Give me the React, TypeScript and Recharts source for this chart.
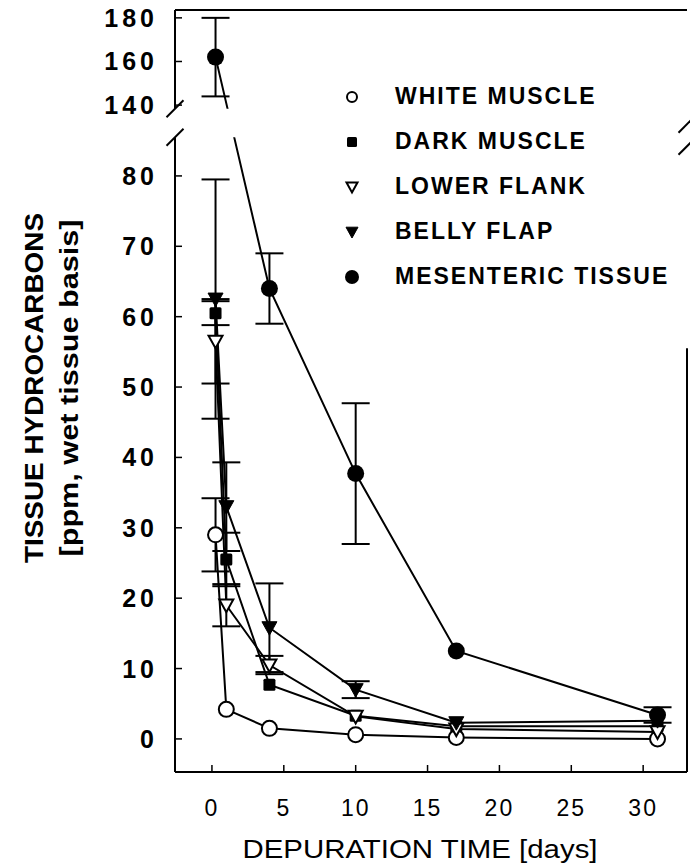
import { ErrorBar, Label, Legend, Line, LineChart, ReferenceArea, ReferenceLine, XAxis, YAxis } from 'recharts'

const days = [0.25, 1, 4, 10, 17, 31]
const mesentericDays = [0.25, 4, 10, 17, 31]

const whiteMuscle = [29, 4.2, 1.5, 0.6, 0.2, 0]
const whiteMuscleErr = [5.2, null, null, null, null, null]
const darkMuscle = [60.5, 25.5, 7.7, 3.3, 1.8, 1.8]
const darkMuscleErr = [1.7, 3.8, null, null, null, null]
const lowerFlank = [56.5, 19, 10.5, 3.2, 1.4, 1.0]
const lowerFlankErr = [6, 3, 1.3, null, null, null]
const bellyFlap = [62.5, 33, 15.8, 7, 2.3, 2.6]
const bellyFlapErr = [17, 6.3, 6.3, 1.2, null, null]
const mesenteric = [162, 64, 37.7, 12.5, 3.4]
const mesentericErr = [18, 5, 10, null, 1.1]

const xTicks = [0, 5, 10, 15, 20, 25, 30]
const lowerTicks = [0, 10, 20, 30, 40, 50, 60, 70, 80]
const upperTicks = [140, 160, 180]

// broken y axis: 0-86 keeps its units, 140-184 is squeezed in above a gap
const UPPER_BASE = 140
const UPPER_OFFSET = 90.06
const UPPER_SCALE = 0.31
const brk = (v: number) => (v < 100 ? v : UPPER_OFFSET + (v - UPPER_BASE) * UPPER_SCALE)
const unbrk = (d: number) => (d < 88 ? d : (d - UPPER_OFFSET) / UPPER_SCALE + UPPER_BASE)

const X_MIN = -2.57
const X_MAX = 33.05
const Y_MIN = -4.7
const Y_MAX = brk(183.6)
const LOWER_TOP = 85.5
const UPPER_BOTTOM = 89.55

const PLOT_W = 512
const PLOT_H = 762
const PX_X = (X_MAX - X_MIN) / PLOT_W
const PX_Y = (Y_MAX - Y_MIN) / PLOT_H

const FONT = '"Liberation Sans", Arial, sans-serif'

type Row = { day: number; y: number; err?: [number, number] }

function buildRows(xs: number[], vals: number[], errs: (number | null)[]): Row[] {
  return xs.map((day, i) => {
    const v = vals[i]
    const e = errs[i]
    const row: Row = { day, y: brk(v) }
    if (e != null) row.err = [brk(v) - brk(v - e), brk(v + e) - brk(v)]
    return row
  })
}

type MarkProps = { cx?: number; cy?: number; small?: boolean }

function OpenCircle({ cx = 0, cy = 0, small }: MarkProps) {
  return <circle cx={cx} cy={cy} r={small ? 5 : 7.5} fill="#fff" stroke="#000" strokeWidth={2} />
}
function FilledSquare({ cx = 0, cy = 0, small }: MarkProps) {
  const s = small ? 10 : 12
  return <rect x={cx - s / 2} y={cy - s / 2} width={s} height={s} rx={1.5} fill="#000" />
}
function triPath(cx: number, cy: number, s: number) {
  return `M${cx - s / 2},${cy - s * 0.4} L${cx + s / 2},${cy - s * 0.4} L${cx},${cy + s * 0.5} Z`
}
function OpenTriangle({ cx = 0, cy = 0, small }: MarkProps) {
  return <path d={triPath(cx, cy, small ? 11 : 14)} fill="#fff" stroke="#000" strokeWidth={2} />
}
function FilledTriangle({ cx = 0, cy = 0, small }: MarkProps) {
  return <path d={triPath(cx, cy, small ? 12 : 15)} fill="#000" stroke="#000" strokeWidth={1} />
}
function FilledCircle({ cx = 0, cy = 0, small }: MarkProps) {
  return <circle cx={cx} cy={cy} r={small ? 7 : 8.5} fill="#000" />
}

const seriesList = [
  { name: 'WHITE MUSCLE', rows: buildRows(days, whiteMuscle, whiteMuscleErr), Mark: OpenCircle },
  { name: 'DARK MUSCLE', rows: buildRows(days, darkMuscle, darkMuscleErr), Mark: FilledSquare },
  { name: 'LOWER FLANK', rows: buildRows(days, lowerFlank, lowerFlankErr), Mark: OpenTriangle },
  { name: 'BELLY FLAP', rows: buildRows(days, bellyFlap, bellyFlapErr), Mark: FilledTriangle },
  { name: 'MESENTERIC TISSUE', rows: buildRows(mesentericDays, mesenteric, mesentericErr), Mark: FilledCircle },
]

function renderLegend() {
  return (
    <div style={{ fontFamily: FONT }}>
      {seriesList.map(({ name, Mark }) => (
        <div key={name} style={{ display: 'flex', alignItems: 'center', height: 45 }}>
          <svg width={40} height={20} style={{ marginRight: 19 }}>
            <Mark cx={16} cy={10} small />
          </svg>
          <span style={{ fontSize: 23, fontWeight: 700, letterSpacing: 2, color: '#000' }}>{name}</span>
        </div>
      ))}
    </div>
  )
}

function YTick({ x, y, payload }: any) {
  return (
    <text x={x} y={y} textAnchor="end" dominantBaseline="central" fontFamily={FONT} fontSize={25} fontWeight={700} letterSpacing={4} fill="#000">
      {Math.round(unbrk(payload.value))}
    </text>
  )
}

function XTick({ x, y, payload }: any) {
  return (
    <text x={x} y={y} textAnchor="middle" dominantBaseline="central" fontFamily={FONT} fontSize={23} letterSpacing={2} fill="#000">
      {payload.value}
    </text>
  )
}

function slash(cx: number, cy: number) {
  return [
    { x: cx - 8.5 * PX_X, y: cy - 8.5 * PX_Y },
    { x: cx + 8.5 * PX_X, y: cy + 8.5 * PX_Y },
  ]
}

const frame = { stroke: '#000', strokeWidth: 2, ifOverflow: 'visible' as const }

export default function App() {
  return (
    <div style={{ position: 'absolute', left: 0, top: 0, width: 690, height: 868, background: '#fff', fontFamily: FONT }}>
      <LineChart width={690} height={868} margin={{ top: 10, right: 3, bottom: 0, left: 0 }}>
        <XAxis
          type="number"
          dataKey="day"
          domain={[X_MIN, X_MAX]}
          ticks={xTicks}
          allowDataOverflow
          tickSize={-7}
          tickMargin={43}
          tick={<XTick />}
          axisLine={{ stroke: '#000', strokeWidth: 2 }}
          tickLine={{ stroke: '#000', strokeWidth: 1.5 }}
          height={96}
        >
          <Label
            content={({ viewBox }: any) => (
              <text
                x={viewBox.x + 245}
                y={viewBox.y + 77}
                textAnchor="middle"
                dominantBaseline="central"
                fontFamily={FONT}
                fontSize={26}
                textLength={355}
                lengthAdjust="spacingAndGlyphs"
                fill="#000"
              >
                DEPURATION TIME [days]
              </text>
            )}
          />
        </XAxis>
        <YAxis
          type="number"
          dataKey="y"
          width={175}
          domain={[Y_MIN, Y_MAX]}
          ticks={[...lowerTicks, ...upperTicks].map(brk)}
          allowDataOverflow
          axisLine={false}
          tickSize={-7}
          tickMargin={24}
          tick={<YTick />}
          tickLine={{ stroke: '#000', strokeWidth: 1.5 }}
        >
          <Label
            content={({ viewBox }: any) => {
              const cy = viewBox.y + viewBox.height / 2 - 3
              return (
                <g fontFamily={FONT} fill="#000">
                  <text
                    x={34}
                    y={cy}
                    transform={`rotate(-90, 34, ${cy})`}
                    textAnchor="middle"
                    dominantBaseline="central"
                    fontSize={26}
                    fontWeight={700}
                    textLength={350}
                    lengthAdjust="spacingAndGlyphs"
                  >
                    TISSUE HYDROCARBONS
                  </text>
                  <text
                    x={69}
                    y={cy}
                    transform={`rotate(-90, 69, ${cy})`}
                    textAnchor="middle"
                    dominantBaseline="central"
                    fontSize={25}
                    fontWeight={700}
                    textLength={337}
                    lengthAdjust="spacingAndGlyphs"
                  >
                    [ppm, wet tissue basis]
                  </text>
                </g>
              )
            }}
          />
        </YAxis>

        {seriesList.map(({ name, rows, Mark }) => (
          <Line
            key={name}
            name={name}
            data={rows}
            dataKey="y"
            type="linear"
            stroke="#000"
            strokeWidth={2}
            isAnimationActive={false}
            dot={(p: any) => <Mark key={`${name}-${p.index}`} cx={p.cx} cy={p.cy} />}
            activeDot={false}
          >
            <ErrorBar dataKey="err" direction="y" width={14} stroke="#000" strokeWidth={2} />
          </Line>
        ))}

        <ReferenceArea x1={X_MIN} x2={X_MAX} y1={LOWER_TOP} y2={UPPER_BOTTOM} fill="#fff" fillOpacity={1} stroke="none" ifOverflow="visible" zIndex={900} />

        <ReferenceLine segment={[{ x: X_MIN, y: Y_MIN }, { x: X_MIN, y: LOWER_TOP }]} {...frame} zIndex={950} />
        <ReferenceLine segment={[{ x: X_MIN, y: UPPER_BOTTOM }, { x: X_MIN, y: Y_MAX }]} {...frame} zIndex={950} />
        <ReferenceLine segment={[{ x: X_MIN, y: Y_MAX }, { x: X_MAX, y: Y_MAX }]} {...frame} zIndex={950} />
        <ReferenceLine segment={[{ x: X_MAX, y: Y_MIN }, { x: X_MAX, y: 55.5 }]} {...frame} zIndex={950} />
        <ReferenceLine segment={slash(X_MIN, UPPER_BOTTOM)} {...frame} zIndex={950} />
        <ReferenceLine segment={slash(X_MIN, LOWER_TOP)} {...frame} zIndex={950} />
        <ReferenceLine segment={slash(X_MAX, 87.35)} {...frame} zIndex={950} />
        <ReferenceLine segment={slash(X_MAX, 84.22)} {...frame} zIndex={950} />

        <Legend
          layout="vertical"
          align="center"
          verticalAlign="middle"
          content={renderLegend}
          wrapperStyle={{ top: 74, left: 336, width: 350 }}
        />
      </LineChart>
    </div>
  )
}
